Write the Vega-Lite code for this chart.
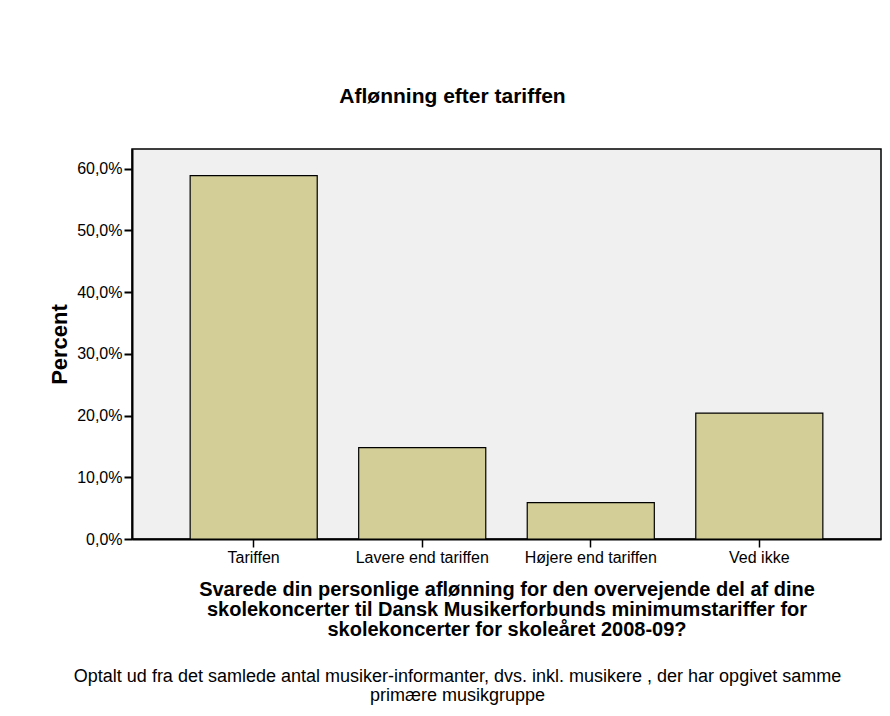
{
  "$schema": "https://vega.github.io/schema/vega-lite/v6.json",
  "autosize": "none",
  "width": 749,
  "height": 390,
  "padding": {"left": 132, "top": 149, "right": 9, "bottom": 177},
  "background": "white",
  "config": {
    "font": "Liberation Sans",
    "view": {"fill": "#F0F0F0", "stroke": "#000000", "strokeWidth": 1.5}
  },
  "title": {
    "text": ["Optalt ud fra det samlede antal musiker-informanter, dvs. inkl. musikere , der har opgivet samme", "primære musikgruppe"],
    "orient": "bottom",
    "anchor": "middle",
    "frame": "group",
    "dx": -49,
    "offset": 29,
    "fontSize": 18,
    "fontWeight": "normal",
    "lineHeight": 19,
    "color": "#000000"
  },
  "data": {
    "values": [
      {"svar": "Tariffen", "pct": 58.9},
      {"svar": "Lavere end tariffen", "pct": 14.8},
      {"svar": "Højere end tariffen", "pct": 5.9},
      {"svar": "Ved ikke", "pct": 20.4}
    ]
  },
  "layer": [
    {
      "mark": {"type": "bar", "fill": "#D3CE97", "stroke": "#000000", "strokeWidth": 1.2},
      "encoding": {
        "x": {
          "field": "svar", "type": "nominal", "sort": null,
          "scale": {"paddingInner": 0.246, "paddingOuter": 0.345},
          "axis": {
            "orient": "bottom",
            "title": ["Svarede din personlige aflønning for den overvejende del af dine", "skolekoncerter til Dansk Musikerforbunds minimumstariffer for", "skolekoncerter for skoleåret 2008-09?"],
            "titleFontSize": 20,
            "titleFontWeight": "bold",
            "titleColor": "#000000",
            "titleLineHeight": 20,
            "titlePadding": 14,
            "labelAngle": 0,
            "labelFontSize": 16,
            "labelColor": "#000000",
            "labelPadding": 2,
            "tickSize": 8,
            "tickColor": "#000000",
            "tickWidth": 1.5,
            "domainColor": "#000000",
            "domainWidth": 2
          }
        },
        "y": {
          "field": "pct", "type": "quantitative",
          "scale": {"domain": [0, 63.2], "nice": false},
          "axis": {
            "title": "Percent",
            "titleFontSize": 22,
            "titleFontWeight": "bold",
            "titleColor": "#000000",
            "titlePadding": 5,
            "values": [0, 10, 20, 30, 40, 50, 60],
            "labelExpr": "replace(format(datum.value, '.1f'), '.', ',') + '%'",
            "labelFontSize": 16,
            "labelColor": "#000000",
            "labelPadding": 2,
            "tickSize": 8,
            "tickColor": "#000000",
            "tickWidth": 2,
            "domainColor": "#000000",
            "domainWidth": 2,
            "grid": false
          }
        }
      }
    },
    {
      "mark": {"type": "bar", "opacity": 0},
      "encoding": {
        "x": {
          "field": "svar", "type": "nominal", "sort": null,
          "axis": {
            "orient": "top",
            "title": "Aflønning efter tariffen",
            "titleFontSize": 21,
            "titleFontWeight": "bold",
            "titleColor": "#000000",
            "titleX": 320,
            "titleY": -53,
            "titleBaseline": "middle",
            "titleAlign": "center",
            "labels": false,
            "ticks": false,
            "domain": false
          }
        },
        "y": {"field": "pct", "type": "quantitative"}
      }
    }
  ],
  "resolve": {"axis": {"x": "independent"}}
}
